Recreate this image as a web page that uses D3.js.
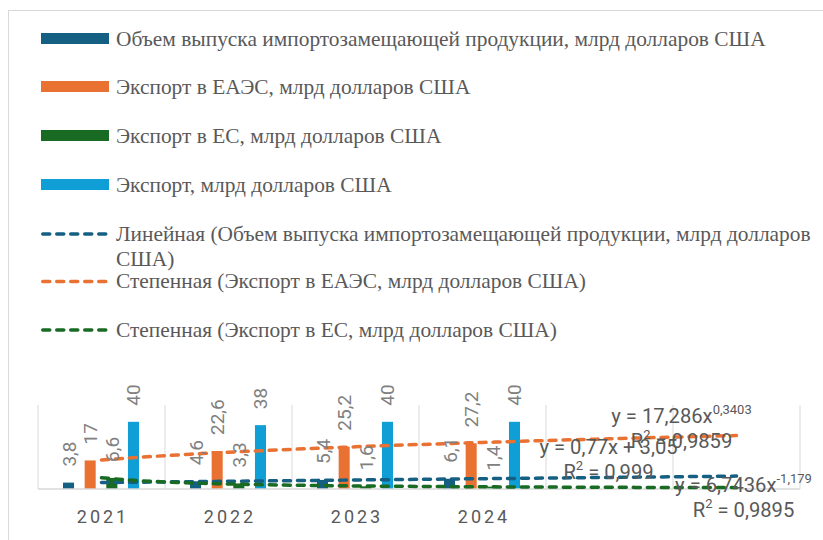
<!DOCTYPE html>
<html>
<head>
<meta charset="utf-8">
<script src="https://cdn.jsdelivr.net/npm/d3@7"></script>
<style>
  body { margin: 0; background: #fff; }
  svg { display: block; }
  .legend-text { font-family: "Liberation Serif", "Times New Roman", serif; font-size: 21.4px; fill: #595959; }
  .data-label { font-family: Roboto, sans-serif; font-size: 19px; fill: #808080; }
  .eq-label { font-family: Roboto, sans-serif; font-size: 20.2px; fill: #595959; }
  .year-label { font-family: Roboto, sans-serif; font-size: 18px; fill: #595959; letter-spacing: 3px; }
</style>
</head>
<body>
<svg width="823" height="540"></svg>
<script>
// data
const years = ['2021', '2022', '2023', '2024'];
const seriesNames = [
  'Объем выпуска импортозамещающей продукции, млрд долларов США',
  'Экспорт в ЕАЭС, млрд долларов США',
  'Экспорт в ЕС, млрд долларов США',
  'Экспорт, млрд долларов США'
];
const importSubst = [3.8, 4.6, 5.4, 6.1];
const exportEaeu = [17, 22.6, 25.2, 27.2];
const exportEu = [6.6, 3.3, 1.6, 1.4];
const exportTotal = [40, 38, 40, 40];
const labelText = [
  ['3,8', '4,6', '5,4', '6,1'],
  ['17', '22,6', '25,2', '27,2'],
  ['6,6', '3,3', '1,6', '1,4'],
  ['40', '38', '40', '40']
];

// trendlines (coefficients as shown on the chart), forecast 2 periods forward
const trendNames = [
  ['Линейная (Объем выпуска импортозамещающей продукции, млрд долларов', 'США)'],
  ['Степенная (Экспорт в ЕАЭС, млрд долларов США)'],
  ['Степенная (Экспорт в ЕС, млрд долларов США)']
];
const trendTypes = ['linear', 'power', 'power'];
const trendA = [0.77, 17.286, 6.7436];
const trendB = [3.05, 0.3403, -1.179];
const trendEq = [['y = 0,77x + 3,05', ''], ['y = 17,286x', '0,3403'], ['y = 6,7436x', '-1,179']];
const trendR2 = ['0,999', '0,9859', '0,9895'];
const forwardPeriods = 2;

const colors = ['#156082', '#E97132', '#196B24', '#0F9ED5'];
const values = [importSubst, exportEaeu, exportEu, exportTotal];

const svg = d3.select('svg');

// chart area border (only top & left visible)
svg.append('rect')
  .attr('x', 8.5).attr('y', 10.5)
  .attr('width', 1000).attr('height', 1000)
  .attr('fill', 'none')
  .attr('stroke', '#d9d9d9');

// legend
const legend = svg.append('g').attr('transform', 'translate(41, 0)');
const legendY = [38.5, 86.5, 135.5, 184.5];
seriesNames.forEach((name, i) => {
  legend.append('rect')
    .attr('x', 0).attr('y', legendY[i] - 5.5)
    .attr('width', 68).attr('height', 11)
    .attr('fill', colors[i]);
  legend.append('text')
    .attr('class', 'legend-text')
    .attr('x', 75).attr('y', legendY[i] + 7.5)
    .text(name);
});
const trendLegendY = [234, 281.5, 330];
trendNames.forEach((lines, i) => {
  legend.append('line')
    .attr('x1', 1.75).attr('x2', 68)
    .attr('y1', trendLegendY[i]).attr('y2', trendLegendY[i])
    .attr('stroke', colors[i])
    .attr('stroke-width', 3.5)
    .attr('stroke-linecap', 'round')
    .attr('stroke-dasharray', '7 7');
  const t = legend.append('text')
    .attr('class', 'legend-text')
    .attr('x', 75).attr('y', trendLegendY[i] + 6.5);
  lines.forEach((ln, j) => {
    t.append('tspan').attr('x', 75).attr('dy', j === 0 ? 0 : 25).text(ln);
  });
});

// plot area
const nCats = years.length + forwardPeriods;
const x = d3.scaleBand()
  .domain(d3.range(1, nCats + 1))
  .range([38, 800])
  .padding(0);
const xSub = d3.scaleBand()
  .domain(d3.range(seriesNames.length))
  .range([25, 101])
  .paddingInner(0.49);
const y = d3.scaleLinear().domain([0, 50]).range([489, 405]);
const xNum = t => x(Math.round(t)) + x.bandwidth() / 2 + (t - Math.round(t)) * x.step();

const plot = svg.append('g');

// vertical gridlines at category boundaries
plot.selectAll('.grid').data(d3.range(nCats + 1))
  .enter().append('line')
    .attr('x1', d => x.range()[0] + d * x.step())
    .attr('x2', d => x.range()[0] + d * x.step())
    .attr('y1', y.range()[1]).attr('y2', y.range()[0])
    .attr('stroke', '#d9d9d9')
    .attr('stroke-width', 1);

// bars
values.forEach((vals, s) => {
  plot.selectAll('.bar-' + s).data(vals)
    .enter().append('rect')
      .attr('x', (d, i) => x(i + 1) + xSub(s))
      .attr('y', d => y(d))
      .attr('width', xSub.bandwidth())
      .attr('height', d => y(0) - y(d))
      .attr('fill', colors[s]);
});

// x axis line
plot.append('line')
  .attr('x1', x.range()[0]).attr('x2', x.range()[1])
  .attr('y1', y(0)).attr('y2', y(0))
  .attr('stroke', '#d9d9d9')
  .attr('stroke-width', 1.5);

// trendlines
const trendFn = i => t => trendTypes[i] === 'linear'
  ? trendA[i] * t + trendB[i]
  : trendA[i] * Math.pow(t, trendB[i]);
const line = d3.line().x(d => xNum(d[0])).y(d => y(d[1]));
const tSamples = d3.range(1, nCats + 0.001, 0.1);
trendTypes.forEach((tp, i) => {
  const f = trendFn(i);
  plot.append('path')
    .attr('d', line(tSamples.map(t => [t, f(t)])))
    .attr('fill', 'none')
    .attr('stroke', colors[i])
    .attr('stroke-width', 3.5)
    .attr('stroke-linecap', 'round')
    .attr('stroke-dasharray', '7 7');
});

// data labels (rotated)
values.forEach((vals, s) => {
  plot.selectAll('.lbl-' + s).data(vals)
    .enter().append('text')
      .attr('class', 'data-label')
      .attr('transform', (d, i) => {
        const cx = x(i + 1) + xSub(s) + xSub.bandwidth() / 2 + 7;
        return `translate(${cx}, ${y(d) - 16}) rotate(-90)`;
      })
      .text((d, i) => labelText[s][i]);
});

// trendline equation labels, placed from the end of each line
const eqOffset = [[-128, -22], [-55, -13], [7, 4.5]];
trendTypes.forEach((tp, i) => {
  const f = trendFn(i);
  const ex = xNum(nCats) + eqOffset[i][0];
  const ey = y(f(nCats)) + eqOffset[i][1];
  const t1 = plot.append('text')
    .attr('class', 'eq-label')
    .attr('text-anchor', 'middle')
    .attr('x', ex).attr('y', ey);
  t1.append('tspan').text(trendEq[i][0]);
  if (trendEq[i][1]) {
    t1.append('tspan').attr('dy', -9).attr('font-size', 13).text(trendEq[i][1]);
  }
  const t2 = plot.append('text')
    .attr('class', 'eq-label')
    .attr('text-anchor', 'middle')
    .attr('x', ex).attr('y', ey + 25);
  t2.append('tspan').text('R');
  t2.append('tspan').attr('dy', -9).attr('font-size', 13).text('2');
  t2.append('tspan').attr('dy', 9).text(' = ' + trendR2[i]);
});

// category labels
plot.selectAll('.year-label').data(years)
  .enter().append('text')
    .attr('class', 'year-label')
    .attr('text-anchor', 'middle')
    .attr('x', (d, i) => x(i + 1) + x.bandwidth() / 2 + 1.5)
    .attr('y', 523)
    .text(d => d);
</script>
</body>
</html>
